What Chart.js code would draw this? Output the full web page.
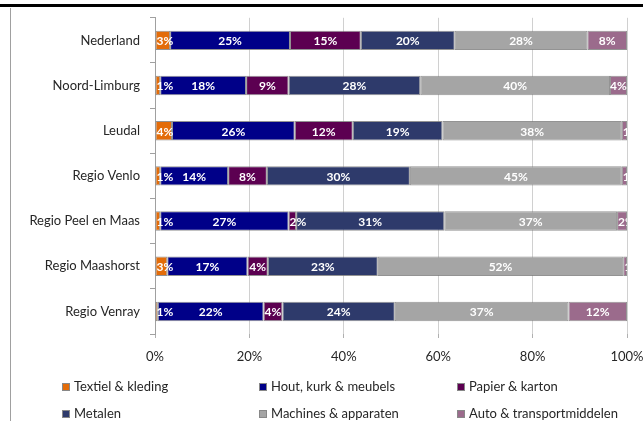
<!DOCTYPE html>
<html>
<head>
<meta charset="utf-8">
<script src="https://cdn.jsdelivr.net/npm/chart.js@4"></script>
<style>
  body { margin: 0; background: #fff; }
  #wrap { position: absolute; left: 0; top: 0; width: 643px; height: 421px; }
  #topline { position: absolute; left: 0; top: 4px; width: 643px; height: 3px; background: #000; }
  #frame { position: absolute; left: 10px; top: 8px; width: 1px; height: 413px; background: #a0a0a0; }
  .leg { position: absolute; font: 13px Lato, sans-serif; color: #262626; white-space: nowrap; line-height: 16px; }
  .leg span { display: inline-block; width: 8px; height: 8px; margin-right: 4px; vertical-align: 0px; border: 0.5px solid #888; box-sizing: border-box; }
</style>
</head>
<body>
<div id="topline"></div>
<div id="frame"></div>
<div id="wrap"><canvas id="chart" width="643" height="421"></canvas></div>
<div id="legend"></div>
<script>
// Categorieën en aandelen per sector (%)
const categories = ['Nederland', 'Noord-Limburg', 'Leudal', 'Regio Venlo', 'Regio Peel en Maas', 'Regio Maashorst', 'Regio Venray'];
const textiel  = [3.2, 1.1, 3.6, 1.1, 1.1, 2.6, 0.6];
const hout     = [25.4, 18.2, 26.0, 14.4, 27.2, 17.0, 22.4];
const papier   = [15.0, 9.0, 12.3, 8.2, 1.6, 4.3, 4.0];
const metalen  = [19.9, 27.9, 19.0, 30.3, 31.4, 23.3, 23.8];
const machines = [28.1, 40.2, 38.0, 44.9, 36.6, 52.0, 36.8];
const auto     = [8.4, 3.6, 1.1, 1.1, 2.1, 0.8, 12.4];

const seriesNames = ['Textiel & kleding', 'Hout, kurk & meubels', 'Papier & karton', 'Metalen', 'Machines & apparaten', 'Auto & transportmiddelen'];
const seriesData = [textiel, hout, papier, metalen, machines, auto];
const seriesColors = ['#E36C09', '#000088', '#5C0051', '#2E3A6B', '#A5A5A5', '#9B6B8C'];

// Labels in het midden van elk segment (te smal: begin bij het segment)
const barLabels = {
    id: 'barLabels',
    afterDatasetsDraw(chart) {
        const ctx = chart.ctx;
        const area = chart.chartArea;
        ctx.save();
        ctx.beginPath();
        ctx.rect(area.left, area.top, area.right - area.left, area.bottom - area.top);
        ctx.clip();
        ctx.font = 'bold 12px Lato, sans-serif';
        ctx.fillStyle = '#fff';
        ctx.textBaseline = 'middle';
        ctx.textAlign = 'left';
        chart.data.datasets.forEach(function(ds, i) {
            chart.getDatasetMeta(i).data.forEach(function(bar, j) {
                const txt = Math.round(ds.data[j]) + '%';
                const w = ctx.measureText(txt).width;
                const start = Math.min(bar.x, bar.base);
                const segW = Math.abs(bar.x - bar.base);
                const x = w > segW ? start + 1 : start + (segW - w) / 2;
                ctx.fillText(txt, x, bar.y + 1);
            });
        });
        ctx.restore();
    }
};

const chart = new Chart(document.getElementById('chart'), {
    type: 'bar',
    data: {
        labels: categories,
        datasets: seriesNames.map(function(name, i) {
            return {
                label: name,
                data: seriesData[i],
                backgroundColor: seriesColors[i],
                borderColor: 'rgba(120,120,120,0.8)',
                borderWidth: 1,
                borderSkipped: false,
                barPercentage: 0.43,
                categoryPercentage: 1
            };
        })
    },
    options: {
        indexAxis: 'y',
        responsive: false,
        animation: false,
        layout: { padding: { left: 0, right: 16, top: 15, bottom: 0 } },
        plugins: {
            legend: { display: false },
            tooltip: { enabled: false }
        },
        scales: {
            x: {
                stacked: true,
                min: 0,
                max: 100,
                ticks: {
                    stepSize: 20,
                    padding: 11,
                    color: '#262626',
                    font: { family: 'Lato', size: 13 },
                    callback: function(v) { return v + '%'; }
                },
                grid: { color: '#d0d0d0', tickLength: 4, tickColor: '#b0b0b0' },
                border: { display: false },
                afterFit: function(scale) {
                    scale.height = 87;
                    scale.paddingLeft = 0;
                    scale.paddingRight = 0;
                }
            },
            y: {
                stacked: true,
                ticks: {
                    padding: 10,
                    color: '#262626',
                    font: { family: 'Lato', size: 13 }
                },
                grid: { drawOnChartArea: false, tickLength: 5, color: '#a0a0a0' },
                border: { display: true, color: '#a0a0a0' },
                afterFit: function(scale) { scale.width = 155; }
            }
        }
    },
    plugins: [barLabels]
});

// Legenda in drie kolommen
const legendPos = [[62, 378], [259, 378], [457, 378], [62, 405], [259, 405], [457, 405]];
const legend = document.getElementById('legend');
seriesNames.forEach(function(name, i) {
    const el = document.createElement('div');
    el.className = 'leg';
    el.style.left = legendPos[i][0] + 'px';
    el.style.top = legendPos[i][1] + 'px';
    const sq = document.createElement('span');
    sq.style.background = seriesColors[i];
    el.appendChild(sq);
    el.appendChild(document.createTextNode(name));
    legend.appendChild(el);
});
</script>
</body>
</html>
